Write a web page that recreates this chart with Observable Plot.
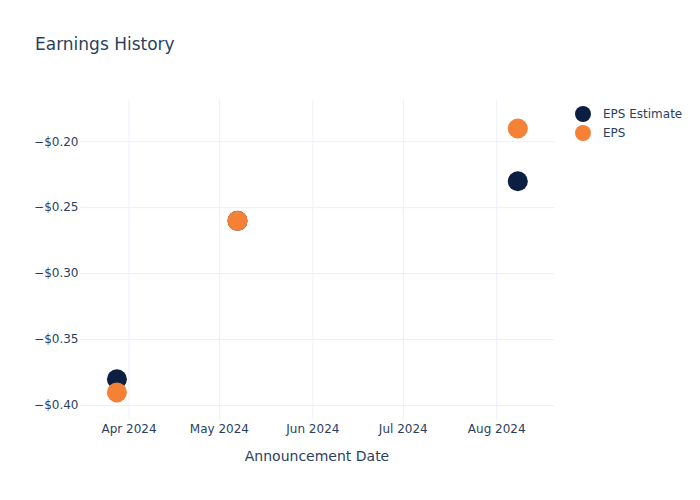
<!DOCTYPE html>
<html>
<head>
<meta charset="utf-8">
<script src="https://cdn.jsdelivr.net/npm/d3@7"></script>
<script src="https://cdn.jsdelivr.net/npm/@observablehq/plot@0.6"></script>
<style>
  body { margin: 0; background: #fff; }
  #wrap { position: relative; width: 700px; height: 500px; font-family: "DejaVu Sans", sans-serif; color: #2a3f5f; }
  #wrap svg { position: absolute; left: 0; top: 0; }
  .t { position: absolute; white-space: nowrap; color: #2a3f5f; }
  .sw { position: absolute; width: 16px; height: 16px; border-radius: 50%; }
</style>
</head>
<body>
<div id="wrap"></div>
<script>
const dates = ["2024-03-28", "2024-05-07", "2024-08-08"];
const epsEstimate = [-0.38, -0.26, -0.23];
const epsActual = [-0.39, -0.26, -0.19];
const seriesNames = ["EPS Estimate", "EPS"];
const seriesColors = ["#0c1f42", "#f58137"];
const yTicks = [-0.20, -0.25, -0.30, -0.35, -0.40];
const xTicks = ["2024-04-01", "2024-05-01", "2024-06-01", "2024-07-01", "2024-08-01"];

const rows = [];
dates.forEach((d, i) => {
  rows.push({date: new Date(d), value: epsEstimate[i], series: seriesNames[0]});
});
dates.forEach((d, i) => {
  rows.push({date: new Date(d), value: epsActual[i], series: seriesNames[1]});
});

const fmtY = v => "\u2212$" + Math.abs(v).toFixed(2);
const fmtX = d3.utcFormat("%b %Y");

const chart = Plot.plot({
  width: 700,
  height: 500,
  marginLeft: 80,
  marginRight: 146,
  marginTop: 100,
  marginBottom: 80,
  style: {fontFamily: "DejaVu Sans, sans-serif", fontSize: "12px", color: "#2a3f5f", background: "transparent"},
  x: {
    type: "utc",
    domain: [new Date("2024-03-15T22:00:00Z"), new Date("2024-08-20T04:00:00Z")],
    ticks: xTicks.map(d => new Date(d)),
    tickFormat: fmtX,
    tickSize: 0,
    tickPadding: 4,
    label: null
  },
  y: {
    domain: [-0.4113, -0.1688],
    ticks: yTicks,
    tickFormat: fmtY,
    tickSize: 0,
    tickPadding: 2,
    label: null
  },
  color: {domain: seriesNames, range: seriesColors},
  marks: [
    Plot.gridX(xTicks.map(d => new Date(d)), {stroke: "#ebf0f8", strokeOpacity: 1, strokeWidth: 1}),
    Plot.gridY(yTicks, {stroke: "#ebf0f8", strokeOpacity: 1, strokeWidth: 1}),
    Plot.axisX({ticks: xTicks.map(d => new Date(d)), tickFormat: fmtX, tickSize: 0, tickPadding: 4, label: null, fill: "#2a3f5f"}),
    Plot.axisY({ticks: yTicks, tickFormat: fmtY, tickSize: 0, tickPadding: 2, label: null, fill: "#2a3f5f"}),
    Plot.dot(rows, {x: "date", y: "value", fill: "series", r: 10, stroke: null})
  ]
});

const wrap = document.getElementById("wrap");
wrap.appendChild(chart);

function addText(txt, left, top, size, extra) {
  const el = document.createElement("div");
  el.className = "t";
  el.textContent = txt;
  el.style.left = left + "px";
  el.style.top = top + "px";
  el.style.fontSize = size + "px";
  if (extra) Object.assign(el.style, extra);
  wrap.appendChild(el);
  return el;
}
addText("Earnings History", 35, 34, 17);
addText("Announcement Date", 317, 448, 14, {transform: "translateX(-50%)"});

seriesNames.forEach((name, i) => {
  const y = 114 + i * 19;
  const sw = document.createElement("div");
  sw.className = "sw";
  sw.style.left = (583 - 8) + "px";
  sw.style.top = (y - 8) + "px";
  sw.style.background = seriesColors[i];
  wrap.appendChild(sw);
  addText(name, 603, y - 7, 12);
});
</script>
</body>
</html>
